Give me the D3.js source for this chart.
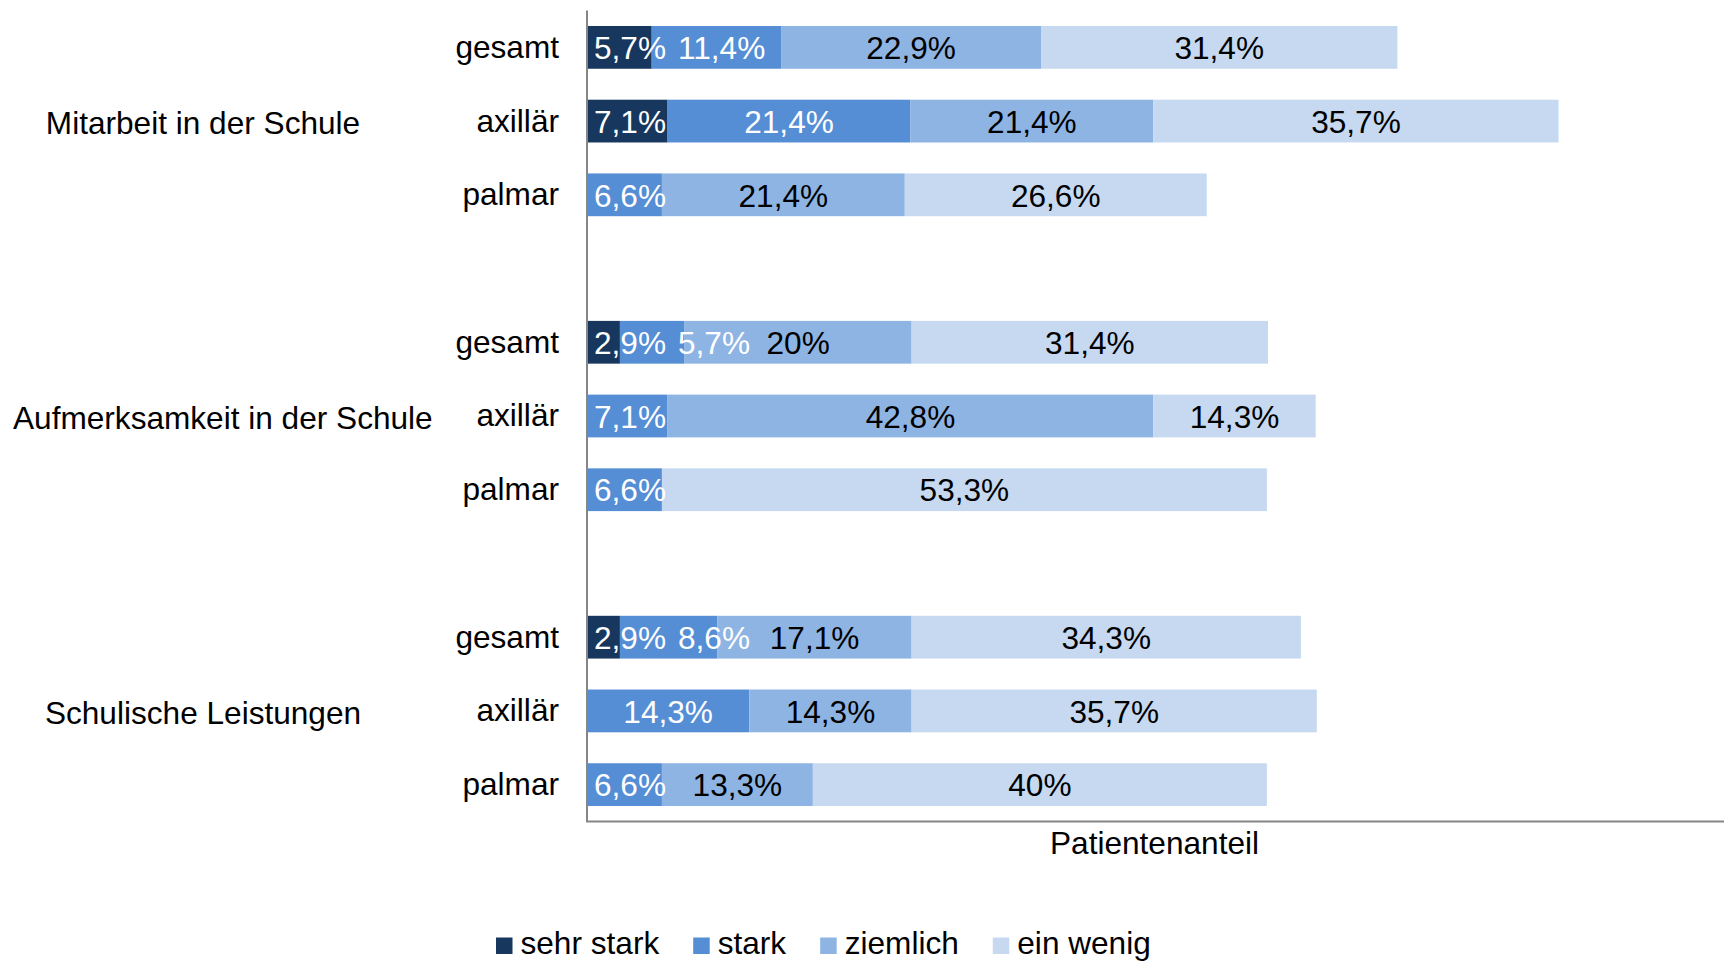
<!DOCTYPE html>
<html lang="de">
<head>
<meta charset="utf-8">
<title>Beeinträchtigung in der Schule</title>
<script src="https://cdn.jsdelivr.net/npm/d3@7"></script>
<style>
  html, body { margin: 0; padding: 0; background: #fff; }
  svg { display: block; font-family: "Liberation Sans", Arial, Helvetica, sans-serif; }
</style>
</head>
<body>
<svg id="chart" width="1724" height="961"></svg>
<script>
// Kategorien
const groups = ["Mitarbeit in der Schule", "Aufmerksamkeit in der Schule", "Schulische Leistungen"];
const subgroups = ["gesamt", "axillär", "palmar"];
const levels = ["sehr stark", "stark", "ziemlich", "ein wenig"];

// Patientenanteile in %, je Zeile: gesamt, axillär, palmar pro Bereich
const sehrStark = [5.7, 7.1, 0,    2.9, 0,    0,    2.9, 0,    0];
const stark     = [11.4, 21.4, 6.6, 5.7, 7.1, 6.6,  8.6, 14.3, 6.6];
const ziemlich  = [22.9, 21.4, 21.4, 20, 42.8, 0,   17.1, 14.3, 13.3];
const einWenig  = [31.4, 35.7, 26.6, 31.4, 14.3, 53.3, 34.3, 35.7, 40];

const xTitle = "Patientenanteil";

// Farben der Stufen
const palette = ["#17375E", "#558ED5", "#8EB4E3", "#C6D9F1"];
const labelInk = ["#ffffff", "#ffffff", "#000000", "#000000"];

const seriesValues = [sehrStark, stark, ziemlich, einWenig];
const rows = [];
groups.forEach((g, gi) => subgroups.forEach((s, si) => {
  const i = gi * subgroups.length + si;
  const row = { group: g, sub: s };
  levels.forEach((l, li) => { row[l] = seriesValues[li][i]; });
  rows.push(row);
}));

const svg = d3.select("#chart");
const W = 1724, H = 961;
const fontSize = 31.6;

const x = d3.scaleLinear().domain([0, 100]).range([587, 1722]);
const yGroup = d3.scaleBand().domain(groups).range([10.5, 821.5]).paddingInner(0.25).paddingOuter(0);
const ySub = d3.scaleBand().domain(subgroups).range([0, yGroup.bandwidth()]).paddingInner(0.42).paddingOuter(0.21);
const yOf = r => yGroup(r.group) + ySub(r.sub);

const stacked = d3.stack().keys(levels)(rows);
const color = d3.scaleOrdinal(levels, palette);
const ink = d3.scaleOrdinal(levels, labelInk);
const fmt = v => String(v).replace(".", ",") + "%";

// Balken
const layers = svg.append("g").selectAll("g")
  .data(stacked).join("g")
  .attr("fill", d => color(d.key));

layers.selectAll("rect")
  .data(d => d.map(p => ({ p, key: d.key })).filter(e => e.p[1] - e.p[0] > 0))
  .join("rect")
  .attr("x", e => x(e.p[0]))
  .attr("width", e => x(e.p[1]) - x(e.p[0]))
  .attr("y", e => yOf(e.p.data))
  .attr("height", ySub.bandwidth());

// Achsenlinien
const axisColor = "#868686";
svg.append("line")
  .attr("x1", x(0)).attr("x2", x(0))
  .attr("y1", yGroup.range()[0]).attr("y2", yGroup.range()[1])
  .attr("stroke", axisColor).attr("stroke-width", 2);
svg.append("line")
  .attr("x1", x(0) - 1).attr("x2", W)
  .attr("y1", yGroup.range()[1]).attr("y2", yGroup.range()[1])
  .attr("stroke", axisColor).attr("stroke-width", 2);

// Datenbeschriftungen: mittig im Segment, ohne Überlappung nach rechts geschoben
const labelLayer = svg.append("g")
  .attr("font-size", fontSize)
  .attr("text-anchor", "middle");
rows.forEach((r, ri) => {
  let minLeft = x(0) + 7;
  stacked.forEach(layer => {
    const p = layer[ri];
    const v = p[1] - p[0];
    if (v <= 0) return;
    const cy = yOf(r) + ySub.bandwidth() / 2;
    const t = labelLayer.append("text")
      .attr("y", cy)
      .attr("dy", "0.37em")
      .attr("fill", ink(layer.key))
      .text(fmt(r[layer.key]));
    const w = t.node().getComputedTextLength();
    let cx = (x(p[0]) + x(p[1])) / 2;
    if (cx - w / 2 < minLeft) cx = minLeft + w / 2;
    t.attr("x", cx);
    minLeft = cx + w / 2 + 12;
  });
});

// Beschriftung der Zeilen
svg.append("g")
  .attr("font-size", fontSize)
  .attr("text-anchor", "end")
  .selectAll("text")
  .data(rows).join("text")
  .attr("x", x(0) - 28)
  .attr("y", r => yOf(r) + ySub.bandwidth() / 2)
  .attr("dy", "0.33em")
  .attr("fill", "#000")
  .text(r => r.sub);

// Beschriftung der Bereiche
const groupLabels = svg.append("g")
  .attr("font-size", fontSize)
  .selectAll("text")
  .data(groups).join("text")
  .attr("y", g => yGroup(g) + yGroup.bandwidth() / 2)
  .attr("dy", "0.42em")
  .attr("fill", "#000")
  .text(g => g);
groupLabels.each(function () {
  const w = this.getComputedTextLength();
  d3.select(this).attr("x", Math.max(13, 203 - w / 2));
});

// Achsentitel
svg.append("text")
  .attr("x", (x.range()[0] + x.range()[1]) / 2)
  .attr("y", 854)
  .attr("text-anchor", "middle")
  .attr("font-size", fontSize)
  .attr("fill", "#000")
  .text(xTitle);

// Legende
const legend = svg.append("g").attr("transform", "translate(496, 954)");
let lx = 0;
levels.forEach(l => {
  const item = legend.append("g").attr("transform", `translate(${lx},0)`);
  item.append("rect")
    .attr("x", 0).attr("y", -16.5)
    .attr("width", 16.5).attr("height", 16.5)
    .attr("fill", color(l));
  const t = item.append("text")
    .attr("x", 24.5).attr("y", 0)
    .attr("font-size", fontSize)
    .attr("fill", "#000")
    .text(l);
  lx += 24.5 + t.node().getComputedTextLength() + 34;
});
</script>
</body>
</html>
